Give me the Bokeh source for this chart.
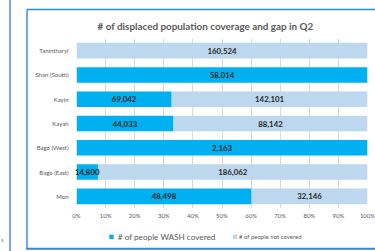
from bokeh.plotting import figure
from bokeh.models import Range1d, FixedTicker, NumeralTickFormatter, ColumnDataSource
from bokeh.core.properties import value
from bokeh.embed import file_html
from bokeh.resources import INLINE

regions = ["Tanintharyi", "Shan (South)", "Kayin", "Kayah", "Bago (West)", "Bago (East)", "Mon"]
covered = [0, 58014, 69042, 44033, 2163, 14800, 48498]
not_covered = [160524, 0, 142101, 88142, 0, 186062, 32146]
pct_ticks = [0, 10, 20, 30, 40, 50, 60, 70, 80, 90, 100]
title_text = "# of displaced population coverage and gap in Q2"
legend_labels = ["# of people WASH covered", "# of people not covered"]

C_COV = "#00B0F0"
C_NOT = "#BDD7EE"
BORDER = "#2E86DE"
FONT = "Lato"

W, H = 375, 251
ML, MR, MT, MB = 76, 8, 38, 43
FW, FH = W - ML - MR, H - MT - MB

n = len(regions)
ypos = [n - 0.5 - i for i in range(n)]          # first region on top
totals = [c + m for c, m in zip(covered, not_covered)]
cov_share = [c / t for c, t in zip(covered, totals)]

p = figure(width=W, height=H, output_backend="svg", toolbar_location=None,
           y_range=Range1d(0, n), x_range=Range1d(0, 1),
           min_border_left=ML, min_border_right=MR, min_border_top=MT, min_border_bottom=MB)
# pixel-based helper ranges (frame-relative) for decoration and legend
p.extra_x_ranges = {"px": Range1d(0, FW)}
p.extra_y_ranges = {"px": Range1d(0, FH)}
p.outline_line_color = None
p.background_fill_color = "white"

src = ColumnDataSource(dict(y=ypos, share=cov_share, zero=[0] * n, one=[1] * n))
r1 = p.hbar(y="y", left="zero", right="share", height=0.64, source=src,
            fill_color=C_COV, line_color=None)
r2 = p.hbar(y="y", left="share", right="one", height=0.64, source=src,
            fill_color=C_NOT, line_color=None)

# data labels
lx, ly, lt = [], [], []
for yy, c, m, s in zip(ypos, covered, not_covered, cov_share):
    if c > 0:
        lx.append(s / 2); ly.append(yy); lt.append(f"{c:,}")
    if m > 0:
        lx.append(s + (1 - s) / 2); ly.append(yy); lt.append(f"{m:,}")
tr = p.text(x=lx, y=ly, text=lt, text_align="center", text_baseline="middle",
            text_font=value(FONT), text_font_style="bold", text_font_size="7.8px",
            text_color="#262626")
tr.level = "overlay"

# axes
p.xaxis.ticker = FixedTicker(ticks=[t / 100 for t in pct_ticks])
p.xaxis.formatter = NumeralTickFormatter(format="0%")
p.yaxis.ticker = FixedTicker(ticks=ypos)
p.yaxis.major_label_overrides = {yy: r for yy, r in zip(ypos, regions)}
for ax in (p.xaxis[0], p.yaxis[0]):
    ax.axis_line_color = None
    ax.major_tick_line_color = None
    ax.minor_tick_line_color = None
    ax.major_tick_out = 0
    ax.major_tick_in = 0
    ax.major_label_text_font = FONT
    ax.major_label_text_color = "#595959"
    ax.major_label_text_font_size = "6px"
p.xaxis.major_label_standoff = 3
p.yaxis.major_label_standoff = 8

p.xgrid.grid_line_color = "#D9D9D9"
p.xgrid.level = "underlay"
p.ygrid.grid_line_color = None

# title
p.title.text = title_text
p.title.align = "left"
p.title.offset = 21
p.title.standoff = 13
p.title.text_font = FONT
p.title.text_font_style = "bold"
p.title.text_font_size = "9.9px"
p.title.text_color = "#595959"

# legend (drawn manually, below the axis)
leg_sq = p.segment(x0=[32.8, 156.3], y0=[-28.3, -28.3], x1=[37.2, 160.7], y1=[-28.3, -28.3],
                   line_color=[C_COV, C_NOT], line_width=4.4, line_cap="butt",
                   x_range_name="px", y_range_name="px")
leg_sq.level = "overlay"
lt1 = p.text(x=[41.3], y=[-28.3], text=[legend_labels[0]], text_align="left",
             text_baseline="middle", text_font=value(FONT), text_font_size="8.2px",
             text_color="#595959", x_range_name="px", y_range_name="px")
lt1.level = "overlay"
lt2 = p.text(x=[162.5], y=[-28.3], text=[legend_labels[1]], text_align="left",
             text_baseline="middle", text_font=value(FONT), text_font_size="6px",
             text_color="#595959", x_range_name="px", y_range_name="px")
lt2.level = "overlay"

# decorative frame lines of the surrounding page
deco = p.segment(x0=[-66.5, -49.5, -49.5], y0=[-50, -41, 199], x1=[-66.5, -49.5, 310],
                 y1=[215, 199, 199], line_color=BORDER, line_width=1.4,
                 x_range_name="px", y_range_name="px")
deco.level = "overlay"
deco2 = p.segment(x0=[-50.2], y0=[-40.2], x1=[310], y1=[-40.2], line_color=BORDER,
                  line_width=2, x_range_name="px", y_range_name="px")
deco2.level = "overlay"
frag = p.text(x=[-75.5], y=[-31], text=["s"], text_align="left", text_baseline="middle",
              text_font=value(FONT), text_font_size="6px", text_color="#7F7F7F",
              x_range_name="px", y_range_name="px")
frag.level = "overlay"

open("out.html", "w").write(file_html(p, INLINE))
